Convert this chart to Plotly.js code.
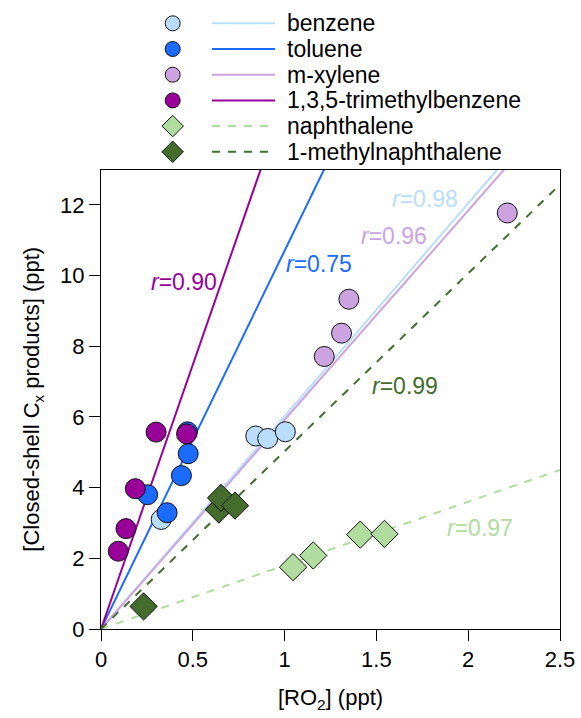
<!DOCTYPE html>
<html>
<head>
<meta charset="utf-8">
<script src="https://cdn.plot.ly/plotly-3.0.1.min.js"></script>
<style>html,body{margin:0;padding:0;background:#fff;}#chart{width:581px;height:718px;}</style>
</head>
<body>
<div id="chart"></div>
<script>
// ---------- data ----------
const seriesNames = ['benzene', 'toluene', 'm-xylene', '1,3,5-trimethylbenzene', 'naphthalene', '1-methylnaphthalene'];
const benzeneX = [0.328, 0.843, 0.908, 1.004];
const benzeneY = [3.10, 5.46, 5.39, 5.58];
const tolueneX = [0.254, 0.360, 0.438, 0.475, 0.471];
const tolueneY = [3.80, 3.29, 4.34, 4.96, 5.58];
const xyleneX = [1.216, 1.310, 1.350, 2.213];
const xyleneY = [7.71, 8.37, 9.33, 11.77];
const tmbX = [0.094, 0.136, 0.187, 0.300, 0.466];
const tmbY = [2.20, 2.84, 3.97, 5.57, 5.52];
const naphX = [1.046, 1.156, 1.412, 1.544];
const naphY = [1.75, 2.08, 2.67, 2.69];
const mnaphX = [0.232, 0.642, 0.654, 0.730];
const mnaphY = [0.64, 3.38, 3.71, 3.49];
const fitSlopes = [6.02, 10.7, 5.92, 14.95, 1.80, 5.03];
const rValues = ['0.98', '0.75', '0.96', '0.90', '0.97', '0.99'];
const xTickVals = [0, 0.5, 1, 1.5, 2, 2.5];
const xTickText = ['0', '0.5', '1', '1.5', '2', '2.5'];
const yTickVals = [0, 2, 4, 6, 8, 10, 12];

// ---------- styles / layout constants ----------
const FONT = 'Liberation Sans, Arial, sans-serif';
const colors = ['#b9ddfb', '#1b6bff', '#cca3e0', '#990099', '#b1dc9f', '#436c2d'];
const symbols = ['circle', 'circle', 'circle', 'circle', 'diamond', 'diamond'];
const dashes = ['solid', 'solid', 'solid', 'solid', '8px,8px', '8px,8px'];
const markerSizes = [20, 20, 20, 20, 21, 21];
const legendMarkerSizes = [15, 15, 15, 15, 16.5, 16.5];
const rLabelPos = [[1.766, 12.16], [1.19, 10.32], [1.595, 11.12], [0.45, 9.81], [2.066, 2.86], [1.657, 6.87]];
const legendRow0 = 23.3, legendRowStep = 25.7;
const legendMarkerX = 172.7, legendLineX0 = 212, legendLineX1 = 275, legendTextX = 285;

const seriesX = [benzeneX, tolueneX, xyleneX, tmbX, naphX, mnaphX];
const seriesY = [benzeneY, tolueneY, xyleneY, tmbY, naphY, mnaphY];
const xMax = 2.5;

const traces = [];
// fit lines
for (let i = 0; i < seriesNames.length; i++) {
  traces.push({
    type: 'scatter', mode: 'lines', x: [0, xMax], y: [0, fitSlopes[i] * xMax],
    line: {color: colors[i], width: 2, dash: dashes[i]},
    showlegend: false, hoverinfo: 'skip', name: seriesNames[i] + ' fit'
  });
}
// data markers
for (let i = 0; i < seriesNames.length; i++) {
  traces.push({
    type: 'scatter', mode: 'markers', x: seriesX[i], y: seriesY[i], name: seriesNames[i],
    marker: {color: colors[i], size: markerSizes[i], symbol: symbols[i], line: {color: '#111', width: 1}},
    cliponaxis: false, showlegend: false
  });
}
// custom legend (on a pixel-scaled helper axis pair)
for (let i = 0; i < seriesNames.length; i++) {
  const ry = legendRow0 + i * legendRowStep;
  traces.push({
    type: 'scatter', mode: 'markers', xaxis: 'x2', yaxis: 'y2', x: [legendMarkerX], y: [ry],
    marker: {color: colors[i], size: legendMarkerSizes[i], symbol: symbols[i], line: {color: '#111', width: 1}},
    cliponaxis: false, showlegend: false, hoverinfo: 'skip'
  });
  traces.push({
    type: 'scatter', mode: 'lines', xaxis: 'x2', yaxis: 'y2', x: [legendLineX0, legendLineX1], y: [ry, ry],
    line: {color: colors[i], width: 2, dash: dashes[i]},
    showlegend: false, hoverinfo: 'skip'
  });
}

const annotations = [];
for (let i = 0; i < seriesNames.length; i++) {
  annotations.push({
    xref: 'x2', yref: 'y2', x: legendTextX, y: legendRow0 + i * legendRowStep,
    text: seriesNames[i], showarrow: false, xanchor: 'left', yanchor: 'middle',
    font: {family: FONT, size: 23, color: '#000'}
  });
  annotations.push({
    xref: 'x', yref: 'y', x: rLabelPos[i][0], y: rLabelPos[i][1],
    text: '<i>r</i>=' + rValues[i], showarrow: false, xanchor: 'center', yanchor: 'middle',
    font: {family: FONT, size: 23, color: colors[i]}
  });
}

const W = 581, H = 718, ML = 101, MR = 21, MT = 0, MB = 89;
const plotTopPx = 169.5;
const plotH = H - MT - MB;
const yTop = (plotH - plotTopPx) / plotH;

const layout = {
  width: W, height: H,
  margin: {l: ML, r: MR, t: MT, b: MB, pad: 0},
  paper_bgcolor: '#fff', plot_bgcolor: '#fff',
  font: {family: FONT, size: 22, color: '#000'},
  showlegend: false,
  xaxis: {
    range: [0, xMax], tickvals: xTickVals, ticktext: xTickText,
    showgrid: false, zeroline: false, showline: true, mirror: true, linecolor: '#000', linewidth: 1,
    ticks: 'outside', ticklen: 11, tickcolor: '#000', tickwidth: 1,
    tickfont: {family: FONT, size: 22, color: '#000'},
    title: {text: '[RO<sub>2</sub>] (ppt)', font: {family: FONT, size: 22, color: '#000'}, standoff: 18},
    automargin: false
  },
  yaxis: {
    range: [0, 13], tickvals: yTickVals, domain: [0, yTop],
    showgrid: false, zeroline: false, showline: true, mirror: true, linecolor: '#000', linewidth: 1,
    ticks: 'outside', ticklen: 11, tickcolor: '#000', tickwidth: 1,
    tickfont: {family: FONT, size: 22, color: '#000'},
    title: {text: '[Closed-shell C<sub>x</sub> products] (ppt)', font: {family: FONT, size: 22, color: '#000'}, standoff: 14},
    automargin: false
  },
  xaxis2: {domain: [0, 1], range: [ML, W - MR], visible: false, fixedrange: true, anchor: 'y2'},
  yaxis2: {domain: [yTop, 1], range: [plotTopPx, 0], visible: false, fixedrange: true, anchor: 'x2'},
  annotations: annotations
};

Plotly.newPlot('chart', traces, layout, {displayModeBar: false, staticPlot: true});
</script>
</body>
</html>
